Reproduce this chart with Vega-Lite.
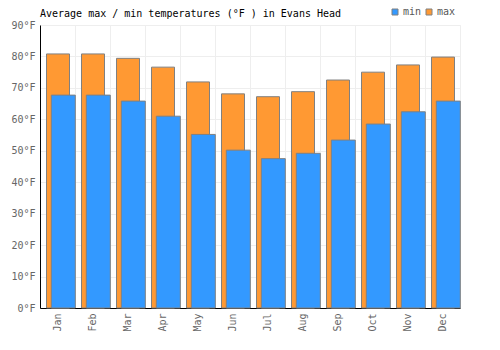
{
  "$schema": "https://vega.github.io/schema/vega-lite/v6.json",
  "width": 420,
  "height": 283,
  "autosize": {"type": "none"},
  "padding": {"left": 40, "top": 25, "right": 40, "bottom": 42},
  "background": "white",
  "title": {
    "text": "Average max / min temperatures (°F ) in Evans Head",
    "anchor": "start",
    "frame": "group",
    "font": "DejaVu Sans Mono",
    "fontSize": 10,
    "fontWeight": "normal",
    "color": "#000000",
    "offset": 7,
    "dy": 19
  },
  "config": {
    "view": {"stroke": "#eeeeee"},
    "axis": {
      "labelFont": "DejaVu Sans Mono",
      "labelFontSize": 10,
      "labelColor": "#666666",
      "domainColor": "#000000",
      "gridColor": "#eeeeee",
      "ticks": false,
      "title": null
    },
    "legend": {
      "labelFont": "DejaVu Sans Mono",
      "labelFontSize": 10,
      "labelColor": "#555555",
      "padding": 0
    }
  },
  "data": {
    "values": [
      {"month": "Jan", "series": "max", "temp": 80.8},
      {"month": "Feb", "series": "max", "temp": 80.8},
      {"month": "Mar", "series": "max", "temp": 79.4},
      {"month": "Apr", "series": "max", "temp": 76.6},
      {"month": "May", "series": "max", "temp": 71.9},
      {"month": "Jun", "series": "max", "temp": 68.1},
      {"month": "Jul", "series": "max", "temp": 67.2},
      {"month": "Aug", "series": "max", "temp": 68.8},
      {"month": "Sep", "series": "max", "temp": 72.5},
      {"month": "Oct", "series": "max", "temp": 75.0},
      {"month": "Nov", "series": "max", "temp": 77.3},
      {"month": "Dec", "series": "max", "temp": 79.8},
      {"month": "Jan", "series": "min", "temp": 67.7},
      {"month": "Feb", "series": "min", "temp": 67.7},
      {"month": "Mar", "series": "min", "temp": 65.8},
      {"month": "Apr", "series": "min", "temp": 61.0},
      {"month": "May", "series": "min", "temp": 55.2},
      {"month": "Jun", "series": "min", "temp": 50.2},
      {"month": "Jul", "series": "min", "temp": 47.5},
      {"month": "Aug", "series": "min", "temp": 49.2},
      {"month": "Sep", "series": "min", "temp": 53.4},
      {"month": "Oct", "series": "min", "temp": 58.5},
      {"month": "Nov", "series": "min", "temp": 62.4},
      {"month": "Dec", "series": "min", "temp": 65.8}
    ]
  },
  "encoding": {
    "x": {
      "field": "month",
      "type": "nominal",
      "sort": ["Jan","Feb","Mar","Apr","May","Jun","Jul","Aug","Sep","Oct","Nov","Dec"],
      "scale": {"paddingInner": 0, "paddingOuter": 0},
      "axis": {"labelAngle": -90, "grid": true, "tickBand": "extent", "labelPadding": 5}
    },
    "y": {
      "field": "temp",
      "type": "quantitative",
      "scale": {"domain": [0, 90], "nice": false},
      "axis": {"values": [0,10,20,30,40,50,60,70,80,90], "labelExpr": "datum.value + '°F'", "labelPadding": 5}
    },
    "color": {
      "field": "series",
      "type": "nominal",
      "scale": {"domain": ["min", "max"], "range": ["#3399ff", "#ff9933"]},
      "legend": {
        "title": null,
        "orient": "none",
        "legendX": 350,
        "legendY": -18,
        "direction": "horizontal",
        "symbolType": "square",
        "symbolSize": 36,
        "symbolStrokeColor": "#808080",
        "symbolStrokeWidth": 1,
        "symbolOpacity": 1,
        "labelOffset": 3,
        "columnPadding": 2
      }
    }
  },
  "layer": [
    {
      "transform": [{"filter": "datum.series == 'max'"}],
      "mark": {"type": "bar", "width": 23, "xOffset": 0.5, "stroke": "#808080", "strokeWidth": 1, "opacity": 1}
    },
    {
      "transform": [{"filter": "datum.series == 'min'"}],
      "mark": {"type": "bar", "width": 24, "xOffset": 5.8, "stroke": "#808080", "strokeWidth": 1, "opacity": 1}
    }
  ]
}
